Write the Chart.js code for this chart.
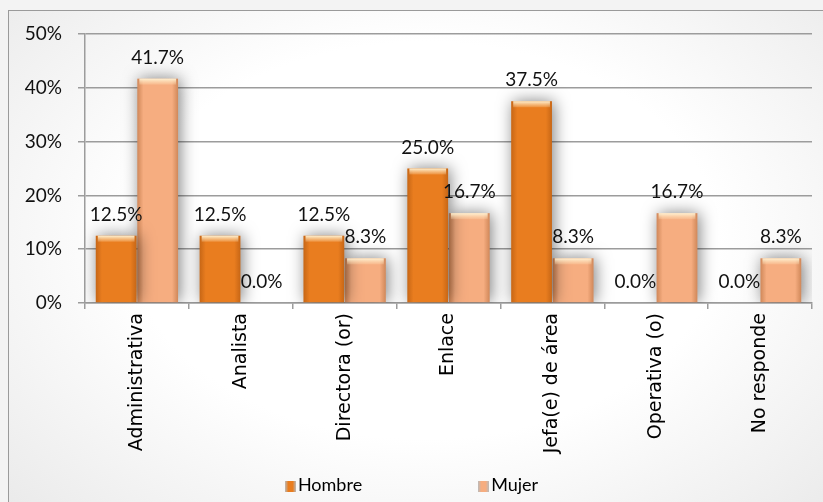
<!DOCTYPE html>
<html>
<head>
<meta charset="utf-8">
<script src="https://cdn.jsdelivr.net/npm/chart.js@4"></script>
<style>
  html, body { margin: 0; padding: 0; background: #f3f3f3; }
  #wrap { position: relative; width: 823px; height: 502px; overflow: hidden; }
  #frame {
    position: absolute; left: 8px; top: 10px; width: 830px; height: 510px;
    border: 1px solid #9a9a9a;
    background: radial-gradient(ellipse at 50% 45%, #ffffff 50%, #e9e9e9 100%);
  }
  #myChart { position: absolute; left: 0; top: 0; }
  #legend {
    position: absolute; left: 0; width: 823px; top: 473px; text-align: center;
    font-family: Lato, sans-serif; font-size: 18px; color: #000;
  }
  #legend span.item { display: inline-block; margin: 0 58px; }
  #legend span.box {
    display: inline-block; width: 11px; height: 11px; margin-right: 2px;
    vertical-align: -1px;
  }
</style>
</head>
<body>
<div id="wrap">
  <div id="frame"></div>
  <canvas id="myChart" width="823" height="502"></canvas>
  <div id="legend"></div>
</div>
<script>
const labels = ['Administrativa', 'Analista', 'Directora (or)', 'Enlace', 'Jefa(e) de área', 'Operativa (o)', 'No responde'];
const hombreValues = [12.5, 12.5, 12.5, 25.0, 37.5, 0.0, 0.0];
const mujerValues = [41.7, 0.0, 8.3, 16.7, 8.3, 16.7, 8.3];
const yTicks = [0, 10, 20, 30, 40, 50];

const hombreColor = '#e97d1f';
const mujerColor = '#f6ad80';

// bevel + shadow look for the bars, drawn on top of each bar element
const bevelPlugin = {
  id: 'bevel',
  beforeDatasetsDraw(chart) {
    const c = chart.ctx;
    c.save();
    c.shadowColor = 'rgba(0,0,0,0.5)';
    c.shadowBlur = 16;
    c.shadowOffsetX = 2;
    c.shadowOffsetY = 0;
  },
  afterDatasetsDraw(chart) {
    const c = chart.ctx;
    c.restore();
    c.save();
    chart.data.datasets.forEach((ds, i) => {
      chart.getDatasetMeta(i).data.forEach(bar => {
        const left = bar.x - bar.width / 2;
        const h = bar.base - bar.y;
        if (h < 1) return;
        const g = c.createLinearGradient(left, 0, left + bar.width, 0);
        g.addColorStop(0, 'rgba(120,50,0,0.30)');
        g.addColorStop(0.15, 'rgba(120,50,0,0.0)');
        g.addColorStop(0.85, 'rgba(120,50,0,0.0)');
        g.addColorStop(1, 'rgba(120,50,0,0.30)');
        c.fillStyle = g;
        c.fillRect(left, bar.y, bar.width, h);
        const cap = Math.min(6, h);
        const g2 = c.createLinearGradient(0, bar.y, 0, bar.y + cap);
        g2.addColorStop(0, 'rgba(255,245,215,0.95)');
        g2.addColorStop(1, 'rgba(255,230,190,0.2)');
        c.fillStyle = g2;
        c.fillRect(left + 2, bar.y, bar.width - 4, cap);
      });
    });
    c.restore();
  }
};

// value labels above the bars
const valueLabels = {
  id: 'valueLabels',
  afterDraw(chart) {
    const c = chart.ctx;
    c.save();
    c.font = '19px Lato, sans-serif';
    c.fillStyle = '#111';
    c.textAlign = 'center';
    c.textBaseline = 'middle';
    chart.data.datasets.forEach((ds, i) => {
      chart.getDatasetMeta(i).data.forEach((bar, j) => {
        c.fillText(ds.data[j].toFixed(1) + '%', bar.x, bar.y - 21);
      });
    });
    c.restore();
  }
};

const ctx = document.getElementById('myChart');

const myChart = new Chart(ctx, {
    type: 'bar',
    data: {
        labels: labels,
        datasets: [
            {
                label: 'Hombre',
                data: hombreValues,
                backgroundColor: hombreColor,
                categoryPercentage: 0.8,
                barPercentage: 0.98,
            },
            {
                label: 'Mujer',
                data: mujerValues,
                backgroundColor: mujerColor,
                categoryPercentage: 0.8,
                barPercentage: 0.98,
            }
        ]
    },
    options: {
        responsive: false,
        animation: false,
        layout: {
            padding: { left: 20, top: 34, right: 11, bottom: 42 }
        },
        plugins: {
            legend: { display: false },
            tooltip: { enabled: false }
        },
        scales: {
            y: {
                min: 0,
                max: 50,
                afterFit(scale) { scale.width = 65; },
                afterBuildTicks(scale) { scale.ticks = yTicks.map(v => ({ value: v })); },
                ticks: {
                    padding: 16,
                    color: '#111',
                    font: { family: 'Lato', size: 19 },
                    callback: v => v + '%'
                },
                grid: { color: '#9c9c9c', lineWidth: 1.5, tickLength: 7 },
                border: { color: '#9c9c9c', width: 1.5 }
            },
            x: {
                afterFit(scale) { scale.height = 157; },
                ticks: {
                    minRotation: 90,
                    maxRotation: 90,
                    padding: 4,
                    color: '#000',
                    font: { family: 'DejaVu Sans', size: 19 }
                },
                grid: {
                    drawOnChartArea: false,
                    offset: true,
                    tickLength: 6,
                    color: '#9c9c9c',
                    lineWidth: 1.5
                },
                border: { color: '#9c9c9c', width: 1.5 }
            }
        }
    },
    plugins: [bevelPlugin, valueLabels]
});

// legend
const legendEl = document.getElementById('legend');
myChart.data.datasets.forEach(ds => {
    const item = document.createElement('span');
    item.className = 'item';
    const box = document.createElement('span');
    box.className = 'box';
    box.style.background = 'linear-gradient(to right, rgba(0,0,0,0.25), ' + ds.backgroundColor + ' 30%, ' + ds.backgroundColor + ' 70%, rgba(0,0,0,0.25))';
    item.appendChild(box);
    item.appendChild(document.createTextNode(ds.label));
    legendEl.appendChild(item);
});
</script>
</body>
</html>
